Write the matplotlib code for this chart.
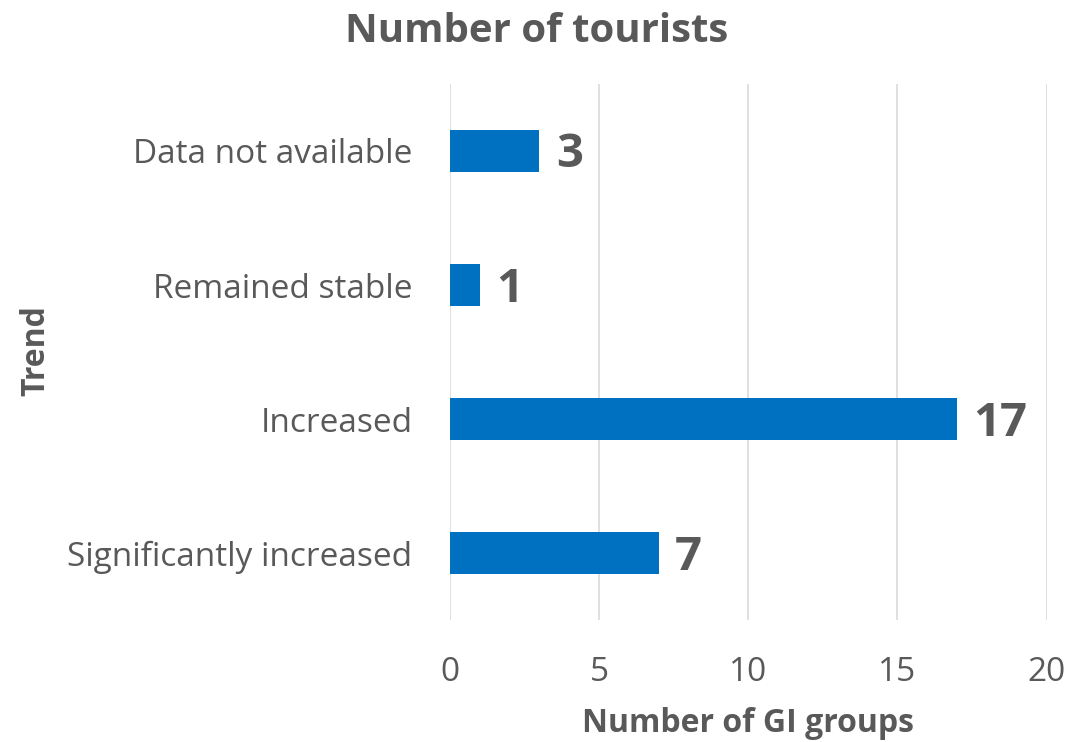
import numpy as np
import matplotlib
matplotlib.use('Agg')
from matplotlib import pyplot as plt

# data, top to bottom as in the chart
categories = ['Data not available', 'Remained stable', 'Increased', 'Significantly increased']
counts = [3, 1, 17, 7]
x_ticks = [0, 5, 10, 15, 20]

grey = '#595959'
blue = '#0070C0'

plt.rcParams['font.family'] = ['Open Sans', 'DejaVu Sans']

fig = plt.figure(figsize=(10.79, 7.42), dpi=100)
ax = fig.add_axes([0.417, 0.164, 0.553, 0.723])

y = np.arange(len(categories))
ax.barh(y, counts, height=0.31, color=blue, zorder=3)
ax.set_ylim(len(categories) - 0.5, -0.5)
ax.set_xlim(0, 20)

for yi, v in zip(y, counts):
    ax.text(v + 0.55, yi + 0.03, str(v), va='center', ha='left', fontsize=34,
            fontweight='bold', color=grey)

ax.set_yticks(y)
ax.set_yticklabels(categories, fontsize=24, color=grey)
ax.set_xticks(x_ticks)
ax.set_xticklabels([str(t) for t in x_ticks], fontsize=24, color=grey)
ax.tick_params(axis='both', length=0)
ax.tick_params(axis='x', pad=26)
ax.tick_params(axis='y', pad=27)

ax.grid(axis='x', color='#D9D9D9', linewidth=1.2, zorder=0)
for s in ax.spines.values():
    s.set_visible(False)

ax.set_xlabel('Number of GI groups', fontsize=23, fontweight='bold', color=grey, labelpad=13)
fig.text(0.033, 0.527, 'Trend', rotation=90, fontsize=23, fontweight='bold',
         color=grey, ha='center', va='center')
fig.text(0.497, 0.957, 'Number of tourists', fontsize=29, fontweight='bold',
         color=grey, ha='center', va='center')

fig.savefig('out.png', dpi=100)
